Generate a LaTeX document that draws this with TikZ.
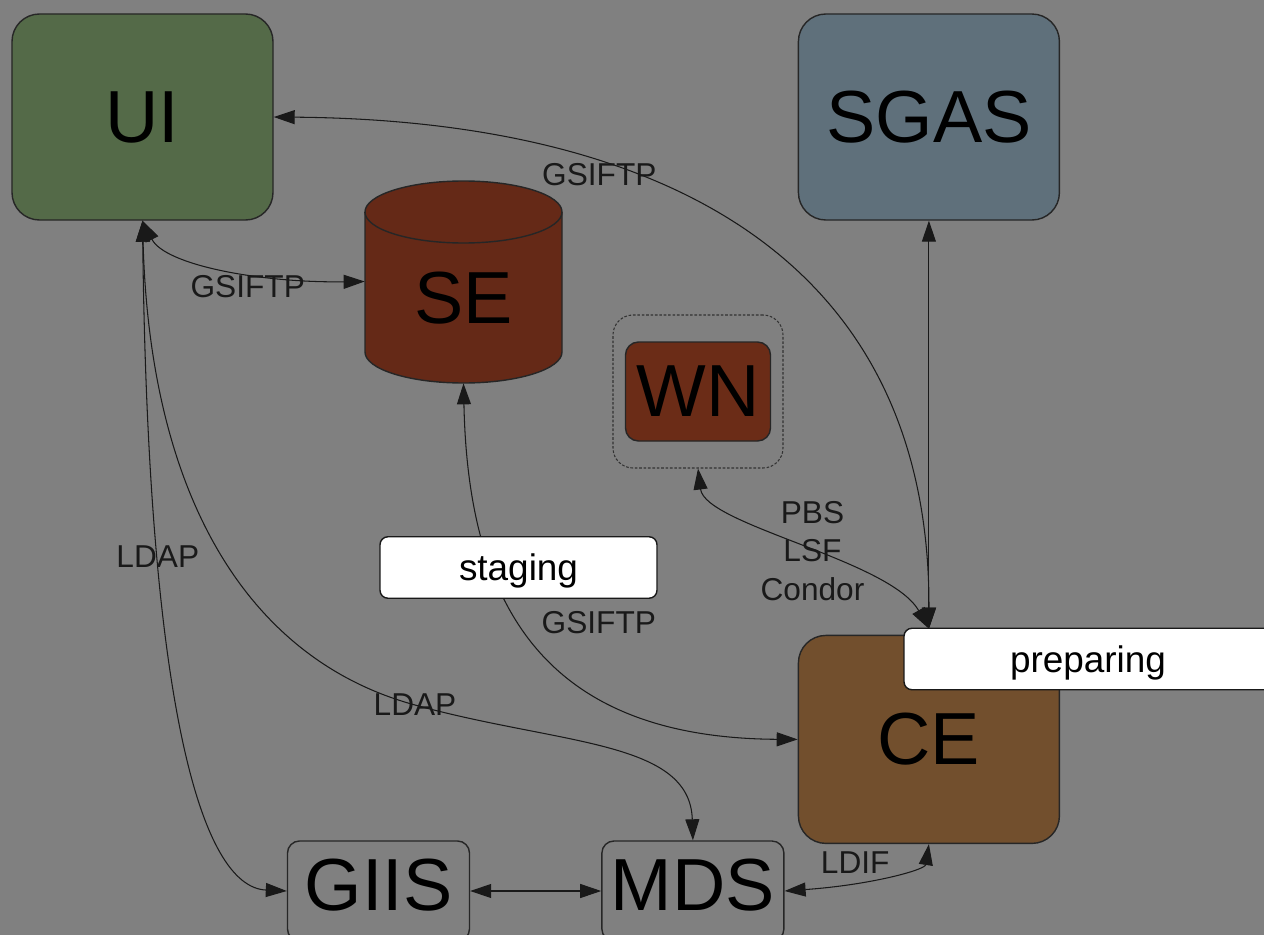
\documentclass[tikz,border=0pt]{standalone}
\usepackage{fontspec}
\setmainfont{Liberation Sans}
\usetikzlibrary{positioning, arrows.meta}

\definecolor{bggray}{HTML}{808080}
\definecolor{uigreen}{HTML}{546A48}
\definecolor{sgasblue}{HTML}{5F707B}
\definecolor{sebrown}{HTML}{652917}
\definecolor{wnbrown}{HTML}{6B2C17}
\definecolor{cebrown}{HTML}{724F2D}

\begin{document}
\begin{tikzpicture}[
        x=0.2mm, y=-0.2mm,
        box/.style={
                rectangle,
                rounded corners=5.5mm,
                draw=black!85,
                line width=0.8pt,
                minimum width=52.2mm,
                minimum height=41.2mm,
                inner sep=0pt,
                font=\fontsize{42}{48}\selectfont
            },
        smallbox/.style={
                rectangle,
                rounded corners=2.4mm,
                draw=black!85,
                fill=bggray,
                line width=0.8pt,
                minimum width=36.4mm,
                minimum height=20mm,
                inner sep=0pt,
                text height=30pt,
                text depth=8pt,
                font=\fontsize{42}{48}\selectfont
            },
        tag/.style={
                rectangle,
                rounded corners=1.6mm,
                draw=black!90,
                fill=white,
                line width=0.8pt,
                inner sep=0pt,
                minimum height=12.3mm,
                text height=19pt,
                text depth=4pt,
                font=\fontsize{21}{25}\selectfont
            },
        proto/.style = {font=\fontsize{18}{22}\selectfont, align=center},
        link/.style = {<->, line width=0.6pt, black!90},
        >={Triangle[length=4.2mm,width=2.8mm]}
    ]
    \useasboundingbox (0,0) rectangle (1264,935);
    \clip (0,0) rectangle (1264,935);
    \fill[bggray] (0,0) rectangle (1264,935);

    \node[box, fill=uigreen] (ui) at (142.5,117) {UI};
    \node[box, fill=sgasblue] (sgas) [right=104.8mm of ui] {SGAS};
    \node[box, fill=cebrown, minimum height=41.6mm] (ce) [below=82.8mm of sgas] {CE};
    \coordinate (cetop) at ([yshift=1.2mm]ce.north);

    % storage element drawn as a cylinder
    \filldraw[fill=sebrown, draw=black!85, line width=0.8pt]
        (365,212) -- (365,352) arc[start angle=180, end angle=360, x radius=19.7mm, y radius=6.2mm]
        -- (562,212) arc[start angle=0, end angle=180, x radius=19.7mm, y radius=6.2mm] -- cycle;
    \draw[black!85, line width=0.8pt]
        (365,212) arc[start angle=180, end angle=360, x radius=19.7mm, y radius=6.2mm];
    \node[minimum width=39.4mm, minimum height=40.6mm, inner sep=0pt, text height=47.6pt, text depth=0pt,
        font=\fontsize{42}{48}\selectfont] (se) at (463.5,281.5) {SE};

    \node[draw=black!80, line width=0.6pt, dash pattern=on 1.5pt off 1pt, rounded corners=4mm,
        minimum width=34mm, minimum height=30.6mm] (pool) at (698,391.5) {};
    \node[box, fill=wnbrown, rounded corners=2.6mm, minimum width=29mm, minimum height=19.8mm] (wn) at (pool) {WN};

    \node[smallbox] (giis) at (378.5,891) {GIIS};
    \node[smallbox] (mds) [right=26.2mm of giis] {MDS};

    \draw[link] (ui.east) .. controls (650,120) and (930,250) .. (cetop)
        node[proto, pos=0.32, yshift=-2.4mm] {GSIFTP};
    \draw[link] (sgas.south) -- (cetop);
    \draw[link] (ui.south) .. controls (165,265) and (260,283) .. (se.west)
        node[proto, pos=0.6, yshift=-2.6mm] {GSIFTP};
    \draw[link] (ui.south) .. controls (148,700) and (200,887) .. (giis.west)
        node[proto, pos=0.28] {LDAP};
    \draw[link] (ui.south) .. controls (150,500) and (250,660) .. (415,705) node[proto] {LDAP}
        .. controls (560,745) and (690,740) .. (mds.north);
    \draw[link] (se.south) .. controls (468,600) and (540,738) .. (ce.west)
        node[proto, pos=0.45, right=2.8mm] {GSIFTP};
    \draw[link] (pool.south) .. controls (705,525) and (890,560) .. (cetop)
        node[proto, pos=0.5, xshift=2.2mm, yshift=-1.4mm] {PBS\\LSF\\Condor};
    \draw[link] (giis.east) -- (mds.west);
    \draw[link] (mds.east) .. controls (870,885) and (925,870) .. (ce.south)
        node[proto, pos=0.35, xshift=-1.4mm, yshift=3.8mm] {LDIF};

    \node[tag, minimum width=55.4mm] (staging) at (518.5,567.5) {staging};
    \node[tag, minimum width=73.6mm] (prep) at (1088,659) {preparing};
\end{tikzpicture}
\end{document}
